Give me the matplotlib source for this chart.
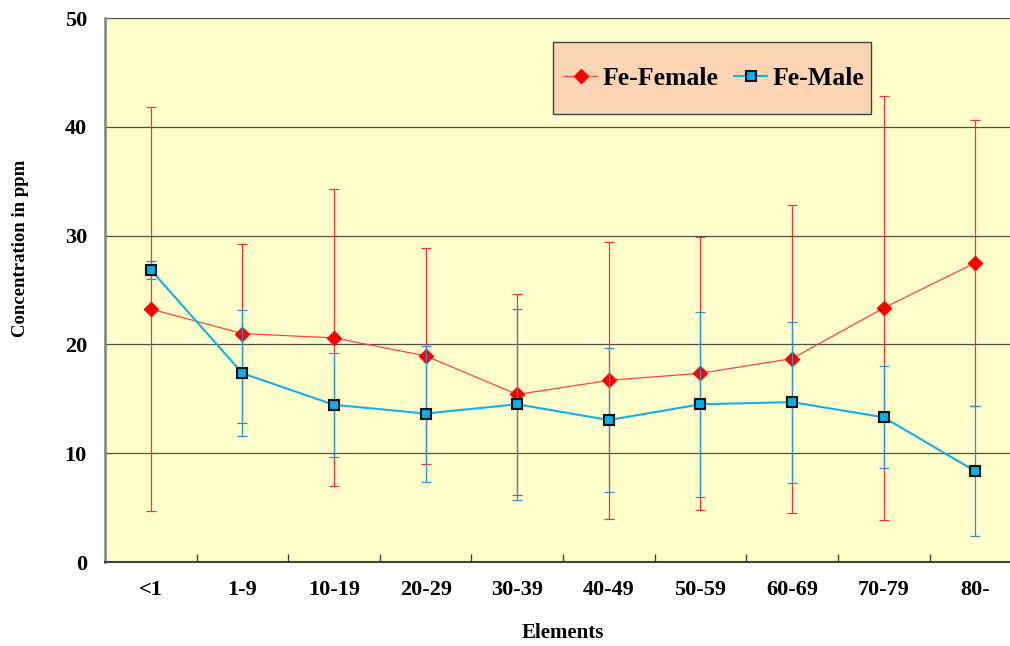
import matplotlib.pyplot as plt
from matplotlib.patches import Rectangle
import numpy as np

groups = ['<1', '1-9', '10-19', '20-29', '30-39', '40-49', '50-59', '60-69', '70-79', '80-']
female_mean = [23.25, 21.0, 20.6, 18.95, 15.4, 16.7, 17.35, 18.7, 23.35, 27.5]
female_sd = [18.6, 8.25, 13.65, 9.9, 9.25, 12.7, 12.55, 14.15, 19.5, 13.15]
male_mean = [26.85, 17.35, 14.45, 13.65, 14.5, 13.05, 14.5, 14.7, 13.3, 8.35]
male_sd = [0.85, 5.8, 4.8, 6.25, 8.8, 6.6, 8.5, 7.4, 4.7, 6.0]

plt.rcParams['font.family'] = ['Liberation Serif', 'DejaVu Serif']
plt.rcParams['font.weight'] = 'bold'

fig = plt.figure(figsize=(10.1, 6.46), dpi=100)
ax = fig.add_axes([0.104, 0.130, 0.907, 0.842])
ax.set_facecolor('#FFFFCC')

x = np.arange(len(groups))

# female series first so the male one sits on top
ax.errorbar(x, female_mean, yerr=female_sd, fmt='none', ecolor='#FF3030',
            elinewidth=0.9, capsize=3.6, capthick=0.9, zorder=3)
fem, = ax.plot(x, female_mean, color='#FF4040', lw=0.9, marker='D', ms=7,
               mfc='#FF0000', mec='#FF0000', zorder=4, label='Fe-Female')

ax.errorbar(x, male_mean, yerr=male_sd, fmt='none', ecolor='#2F8FD0',
            elinewidth=0.9, capsize=3.6, capthick=0.9, zorder=5)
mal, = ax.plot(x, male_mean, color='#10B0E8', lw=1.5, marker='s', ms=7.5,
               mfc='#00B0F0', mec='#101010', mew=1.5, zorder=6, label='Fe-Male')

ax.set_xlim(-0.5, 9.5)
ax.set_ylim(0, 50)
ax.set_yticks(range(0, 51, 10))
ax.yaxis.grid(True, color='#505040', lw=0.9)
ax.set_axisbelow(True)

ax.set_xticks(x)
ax.set_xticklabels(groups, fontsize=16, fontweight='bold')
ax.set_xticks(x[:-1] + 0.5, minor=True)
ax.tick_params(axis='x', which='major', length=0, pad=13)
ax.tick_params(axis='x', which='minor', direction='in', length=6,
               width=1, color='#404040')
ax.tick_params(axis='y', length=0, pad=13, labelsize=16)
for lab in ax.get_yticklabels():
    lab.set_fontweight('bold')

for side in ['top', 'right']:
    ax.spines[side].set_visible(False)
ax.spines['left'].set_color('#808080')
ax.spines['left'].set_linewidth(1.8)
ax.spines['bottom'].set_color('#404040')
ax.spines['bottom'].set_linewidth(1.5)

fig.text(0.02, 0.616, 'Concentration in ppm', rotation=90, ha='center',
         va='center', fontsize=13.5, fontweight='bold')
fig.text(0.557, 0.02, 'Elements', ha='center', va='center',
         fontsize=15, fontweight='bold')

# legend box
fig.patches.append(Rectangle((553 / 1010, 1 - 114 / 646), 318 / 1010, 72 / 646,
                             transform=fig.transFigure, facecolor='#FCD5B5',
                             edgecolor='#404040', lw=1, zorder=1))
fig.legend(handles=[fem, mal], loc='center', bbox_to_anchor=(0.707, 0.879),
           ncol=2, frameon=False, prop={'size': 18.5, 'weight': 'bold'},
           handlelength=1.3, handletextpad=0.2, columnspacing=0.6)

fig.savefig('out.png', dpi=100)
